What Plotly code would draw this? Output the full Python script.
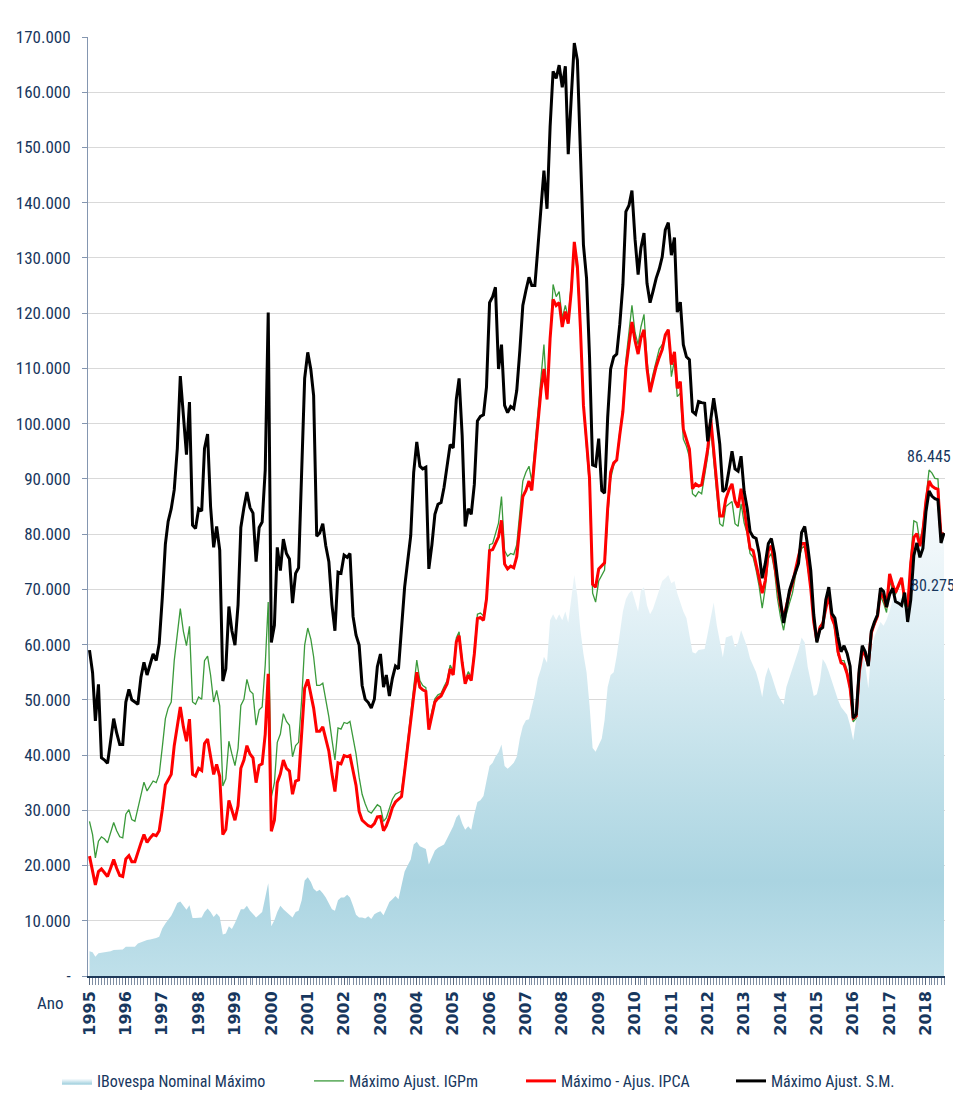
import pandas as pd
import plotly.graph_objects as go

# Monthly values, Jan 1995 .. Jul 2018 (one row per year)
ibov_nominal = [
    4500, 4300, 3500, 4100, 4200, 4300, 4300, 4500, 4700, 4700, 4700, 4800,
    5300, 5300, 5300, 5300, 5900, 6100, 6400, 6500, 6600, 6700, 6900, 7100,
    8600, 9500, 10200, 10900, 12000, 13200, 13500, 12800, 12000, 12800, 10500, 10500,
    10500, 10600, 11600, 12200, 11600, 10700, 11300, 10700, 7500, 7700, 9000, 8500,
    9600, 11100, 12100, 12100, 12700, 11800, 11100, 10600, 11100, 11600, 14200, 16800,
    9000, 10100, 11600, 12700, 12100, 11600, 11100, 10600, 11600, 11800, 13700, 17300,
    17900, 17000, 15800, 15300, 15600, 15000, 14200, 13200, 12100, 11800, 13700, 14200,
    14200, 14700, 14200, 12700, 11100, 10600, 10600, 10400, 10800, 10300, 11200, 11500,
    11700, 11000, 12300, 13400, 13900, 14500, 13900, 16700, 18900, 20000, 21100, 23800,
    24300, 23500, 23200, 23000, 20200, 21600, 22700, 23200, 23500, 23800, 24900, 26000,
    27100, 28700, 29300, 27600, 26500, 27100, 26500, 29300, 31500, 31800, 32600, 35300,
    38000, 38600, 39700, 40500, 41900, 38000, 37500, 38000, 38600, 39700, 43000, 45200,
    46300, 46500, 48500, 50900, 53900, 55600, 57800, 56700, 64400, 65500, 64400, 65500,
    64400, 66000, 64000, 68200, 72600, 68800, 62700, 58300, 55000, 49000, 41300, 40600,
    41900, 43000, 46300, 52300, 54500, 55000, 58000, 61600, 66000, 68200, 69300, 69800,
    68000, 66000, 69800, 70400, 67100, 65500, 66500, 68200, 69800, 71500, 72000, 72600,
    71100, 71500, 69300, 67600, 66000, 64800, 61500, 58600, 58400, 59000, 59100, 59200,
    62000, 65000, 67600, 63500, 60400, 57700, 61300, 61500, 61700, 59500, 60400, 62600,
    61000, 59500, 57500, 56300, 55000, 53000, 50500, 54100, 55900, 54500, 52700, 51000,
    50000, 49100, 52300, 54000, 55400, 57000, 59000, 61300, 60400, 56000, 53400, 50700,
    51000, 53400, 57400, 56500, 55100, 53400, 51500, 50000, 48700, 48000, 47300, 45400,
    42700, 46700, 53400, 58700, 56400, 52100, 59000, 61400, 62700, 64100, 63400, 64500,
    66100, 68100, 68100, 68100, 68400, 66800, 64500, 72100, 75000, 77800, 76800, 78500,
    81400, 86445, 85000, 84500, 85000, 77500, 80275,
]

max_adj_igpm = [
    28000, 25600, 21400, 24400, 25200, 24800, 24100, 26000, 27800, 26300, 25200, 25000,
    29300, 30100, 28300, 28000, 30500, 33100, 35100, 33500, 34500, 35300, 35000, 36500,
    41400, 46600, 48500, 49600, 57100, 62000, 66500, 62400, 59800, 63300, 49600, 49200,
    50500, 50100, 57100, 57900, 54500, 49600, 51700, 48900, 34400, 35700, 42500, 40200,
    38100, 41200, 49000, 50100, 53700, 51600, 51100, 45400, 48200, 48700, 56300, 67700,
    32400, 35000, 42300, 43800, 47500, 46100, 45400, 39700, 41700, 42300, 50100, 59900,
    63000, 61000, 57800, 52600, 52600, 53000, 50100, 46900, 42800, 39100, 44900, 44700,
    45900, 45700, 46100, 42800, 40200, 36000, 32900, 31200, 29800, 29500, 30300, 31000,
    30600, 28000, 28600, 30200, 32000, 32900, 33200, 33500, 37600, 42500, 47000, 51800,
    57200, 53500, 52600, 52200, 45200, 48000, 50200, 50900, 51200, 52400, 53500, 56300,
    55200, 61200, 62300, 57300, 53500, 55100, 54100, 59000, 65500, 65700, 65200, 68800,
    78100, 78300, 80000, 82000, 86800, 77000, 76000, 76500, 76300, 78100, 84000, 89600,
    91200, 92300, 89600, 95600, 102000, 108800, 114300, 104400, 116400, 125200, 123000, 123900,
    119100, 121400, 119100, 125200, 131500, 127000, 117500, 103000, 96000, 88500, 69300, 67700,
    71500, 72600, 73500, 83000, 90000, 92500, 93500, 98500, 103000, 111500, 116500, 121400,
    116500, 114300, 117500, 119800, 111500, 106500, 109000, 111500, 113500, 114300, 115800, 117000,
    108500, 111500, 104900, 105500, 97200, 95900, 94000, 87300, 86800, 87700, 87300, 90500,
    94100, 99000, 92700, 87300, 81900, 81400, 85000, 85500, 85900, 81900, 81400, 85500,
    82000, 80100, 76500, 75800, 73500, 70500, 66600, 70200, 75600, 76500, 73500, 68400,
    65000, 62600, 65500, 67500, 69300, 72500, 75000, 77400, 77900, 74400, 70000, 64800,
    60400, 63400, 64100, 67000, 69400, 65400, 62500, 58100, 57100, 57100, 55400, 51400,
    46000, 46700, 54400, 58700, 57800, 57000, 62400, 63400, 65000, 68800, 67500, 65800,
    71500, 69800, 69100, 70300, 71500, 67100, 66000, 75800, 82400, 82100, 78400, 81500,
    86800, 91600, 91100, 90100, 90000, 80000, 80200,
]

max_adj_ipca = [
    21700, 19200, 16500, 18900, 19400, 18700, 18000, 19500, 21100, 19500, 18200, 18000,
    21200, 21800, 20700, 20700, 22500, 24100, 25600, 24200, 25000, 25600, 25400, 26300,
    30100, 34600, 35500, 36500, 41700, 45500, 48700, 45100, 42500, 46500, 36500, 36200,
    37600, 37200, 42100, 42900, 39800, 36500, 38300, 36100, 25600, 26500, 31800, 29800,
    28200, 30800, 37600, 39100, 41700, 40200, 39500, 35000, 38100, 38400, 43800, 54700,
    26200, 28200, 35000, 36600, 39100, 37600, 37100, 32900, 35300, 35500, 43800, 52100,
    53700, 50600, 48500, 44300, 44300, 45100, 42800, 40700, 36600, 33400, 38600, 38400,
    39900, 39700, 39900, 37100, 34500, 29800, 28200, 27700, 27200, 27000, 27600, 28800,
    28900, 26300, 27200, 28700, 30500, 31500, 32000, 32500, 37000, 41900, 46300, 50700,
    55000, 52300, 51800, 51500, 44600, 47400, 49600, 50300, 50700, 51800, 52900, 55600,
    54500, 60500, 61600, 56700, 52900, 54500, 53500, 58300, 64700, 64900, 64400, 68200,
    77000, 77200, 78300, 79500, 82500, 74600, 73700, 74200, 73900, 75900, 81400, 86800,
    87900, 89600, 87900, 94500, 100500, 106000, 109900, 104400, 115400, 122500, 121400, 121900,
    117500, 120300, 118100, 124100, 132900, 128500, 117500, 103300, 96700, 90100, 70900, 70400,
    73700, 74200, 74800, 84600, 91200, 92900, 93400, 98000, 102200, 110000, 114300, 118400,
    115000, 112600, 115500, 117000, 110000, 105700, 108000, 110300, 112000, 113400, 116100, 117000,
    110700, 113000, 106400, 107600, 99000, 97200, 95400, 88200, 89100, 88700, 88900, 92000,
    95400, 100800, 95400, 89100, 83300, 83300, 86400, 88000, 89100, 86000, 84800, 88200,
    84200, 81000, 77400, 77000, 74700, 72000, 69300, 71600, 77000, 77900, 74700, 70700,
    67100, 64800, 67100, 69300, 71100, 73800, 76000, 78300, 78300, 74800, 70100, 64100,
    60700, 63100, 63800, 66500, 69100, 64800, 63400, 58700, 56700, 56400, 54700, 52100,
    46700, 47100, 54800, 58700, 58100, 56400, 62100, 63800, 65100, 69400, 68500, 66800,
    72800, 70800, 69400, 70800, 72100, 68100, 66800, 74800, 79400, 80100, 77800, 80500,
    86000, 89600, 88700, 88300, 88100, 79600, 80200,
]

max_adj_sm = [
    59000, 54900, 46200, 52800, 39500, 39100, 38500, 42500, 46600, 44000, 41900, 41900,
    49600, 51900, 50000, 49600, 49200, 54100, 56800, 54500, 56500, 58300, 57100, 60200,
    68400, 78200, 82300, 84600, 88000, 95500, 108600, 100800, 94400, 103900, 81600, 81000,
    84600, 84200, 95500, 98100, 85000, 77600, 81400, 77100, 53400, 55600, 66900, 62500,
    59900, 67200, 81200, 84800, 87600, 84800, 83800, 75000, 81200, 82200, 91600, 120100,
    60400, 63500, 77600, 73400, 79100, 76500, 75500, 67500, 72900, 73900, 89500, 108200,
    112900, 109800, 105100, 79600, 80200, 81900, 77900, 75000, 67200, 62500, 73100, 72900,
    76200, 75800, 76500, 65100, 61700, 59900, 52600, 50100, 49500, 48500, 50100, 56000,
    58300, 52300, 54500, 50700, 53900, 56100, 55600, 62700, 70400, 75000, 79700, 91200,
    96700, 92300, 91800, 92100, 73700, 78100, 83600, 85400, 85700, 88500, 92300, 96200,
    95600, 104400, 108200, 97800, 81400, 84600, 83600, 89000, 100500, 101300, 101600, 106600,
    121900, 123000, 124700, 109900, 114300, 103300, 102000, 103100, 102700, 106000, 113200, 121400,
    124100, 126500, 125000, 125000, 131800, 138400, 145800, 138900, 153700, 163800, 162500, 164900,
    160900, 164700, 148800, 159200, 168900, 165800, 149300, 132300, 126300, 112100, 92500, 92300,
    97300, 87900, 87400, 101100, 109900, 112100, 112600, 118000, 125200, 138400, 139500, 142200,
    133400, 127000, 131800, 134500, 125400, 121900, 124000, 126300, 128000, 130200, 135100, 136400,
    130500, 133700, 120200, 122000, 114300, 112100, 111600, 102200, 101700, 104000, 103800, 103700,
    96800, 100800, 104600, 100800, 96300, 87700, 88200, 91500, 95000, 91800, 91400, 94100,
    87700, 84600, 80500, 79500, 79200, 76500, 72000, 74700, 78300, 79200, 76500, 72000,
    68000, 63900, 66600, 69800, 71500, 73000, 74700, 80300, 81400, 77800, 73400, 65400,
    60400, 62700, 63100, 68100, 70400, 65600, 64800, 61400, 58700, 59800, 58400, 56100,
    46700, 47400, 55400, 59800, 58700, 56100, 62400, 64100, 65400, 70200, 69600, 66800,
    69100, 70200, 67800, 67500, 67100, 69400, 64100, 68100, 76100, 78400, 75800, 77400,
    84100, 87800, 86900, 86400, 86200, 78400, 80200,
]

year_labels = [str(y) for y in range(1995, 2019)]
y_ticks = list(range(0, 170001, 10000))
y_tick_text = ["-"] + [f"{v // 1000}.000" for v in y_ticks[1:]]

series_names = ["IBovespa Nominal Máximo", "Máximo Ajust. IGPm",
                "Máximo - Ajus. IPCA", "Máximo Ajust. S.M."]
note_labels = ["86.445", "80.275"]

months = pd.date_range("1995-01-01", periods=len(ibov_nominal), freq="MS")

TXT = "#17375e"
NARROW = "Liberation Sans Narrow, Roboto Condensed, Roboto, sans-serif"

fig = go.Figure()
fig.add_trace(go.Scatter(
    x=months, y=ibov_nominal, name=series_names[0], mode="lines",
    line=dict(width=0, color="#b5dbe6"), fill="tozeroy",
    fillcolor="#b5dbe6",
    fillgradient=dict(type="vertical", start=0, stop=86000,
                      colorscale=[[0.0, "#bfe0ea"], [0.2, "#aad4e1"],
                                  [0.45, "#c3e1ea"], [0.7, "#ddeef4"],
                                  [0.9, "#f0f7fa"], [1.0, "#f8fbfd"]]),
    legend="legend",
))
fig.add_trace(go.Scatter(
    x=months, y=max_adj_igpm, name=series_names[1], mode="lines",
    line=dict(width=1.3, color="#3b9a3b"), legend="legend2",
))
fig.add_trace(go.Scatter(
    x=months, y=max_adj_ipca, name=series_names[2], mode="lines",
    line=dict(width=3, color="#ff0000"), legend="legend3",
))
fig.add_trace(go.Scatter(
    x=months, y=max_adj_sm, name=series_names[3], mode="lines",
    line=dict(width=3, color="#000000"), legend="legend4",
))

# The page puts the figure 8 px in from its top-left corner.
OFF = 8
W, H = 961 - OFF, 1111 - OFF
L, R, T, B = 88 - OFF, 16, 37 - OFF, 135
pw, ph = W - L - R, H - T - B


def px_x(x):
    """Page pixel x -> paper fraction."""
    return (x - OFF - L) / pw


def px_y(y):
    """Page pixel y -> paper fraction."""
    return (H - B - (y - OFF)) / ph


leg_common = dict(orientation="h", yanchor="middle", xanchor="left",
                  bgcolor="rgba(0,0,0,0)", itemwidth=30,
                  font=dict(family=NARROW, size=16, color=TXT))
legend_lefts = [57, 309, 521, 731]

note_font = dict(family=NARROW, size=16, color=TXT)

fig.update_layout(
    width=W, height=H,
    margin=dict(l=L, r=R, t=T, b=B, autoexpand=False),
    paper_bgcolor="white", plot_bgcolor="white",
    showlegend=True,
    legend=dict(x=px_x(legend_lefts[0]), y=px_y(1081), **leg_common),
    legend2=dict(x=px_x(legend_lefts[1]), y=px_y(1081), **leg_common),
    legend3=dict(x=px_x(legend_lefts[2]), y=px_y(1081), **leg_common),
    legend4=dict(x=px_x(legend_lefts[3]), y=px_y(1081), **leg_common),
    xaxis=dict(
        type="date",
        range=["1994-12-17", "2018-07-11"],
        tickvals=[f"{y}-01-01" for y in range(1995, 2019)],
        ticktext=year_labels,
        tickangle=-90,
        tickfont=dict(family="DejaVu Sans", size=16, color=TXT, weight="bold"),
        ticks="outside", ticklen=7, tickcolor="#5a6a80",
        minor=dict(dtick="M1", tick0="1995-01-01", ticks="outside",
                   ticklen=7, tickcolor="#7f8ea3", showgrid=False),
        showline=True, linecolor="#1f3a5a", linewidth=1.5,
        showgrid=False, zeroline=False, automargin=False,
    ),
    yaxis=dict(
        range=[0, 170000],
        tickvals=y_ticks, ticktext=y_tick_text,
        tickfont=dict(family=NARROW, size=17, color=TXT),
        ticks="outside", ticklen=5, tickcolor="#8496b0",
        ticklabelstandoff=8,
        showline=True, linecolor="#8496b0", linewidth=1,
        showgrid=True, gridcolor="#d9d9d9", gridwidth=1,
        zeroline=False, automargin=False,
    ),
    annotations=[
        dict(text="Ano", xref="paper", yref="paper", x=px_x(50), y=px_y(1003),
             xanchor="center", yanchor="middle", showarrow=False,
             font=dict(family=NARROW, size=17, color=TXT)),
        dict(text=note_labels[0], xref="paper", yref="paper", x=px_x(929), y=px_y(456),
             xanchor="center", yanchor="middle", showarrow=False, font=note_font),
        dict(text=note_labels[1], xref="paper", yref="paper", x=px_x(933), y=px_y(586),
             xanchor="center", yanchor="middle", showarrow=False, font=note_font),
    ],
)

fig.write_html("out.html")
